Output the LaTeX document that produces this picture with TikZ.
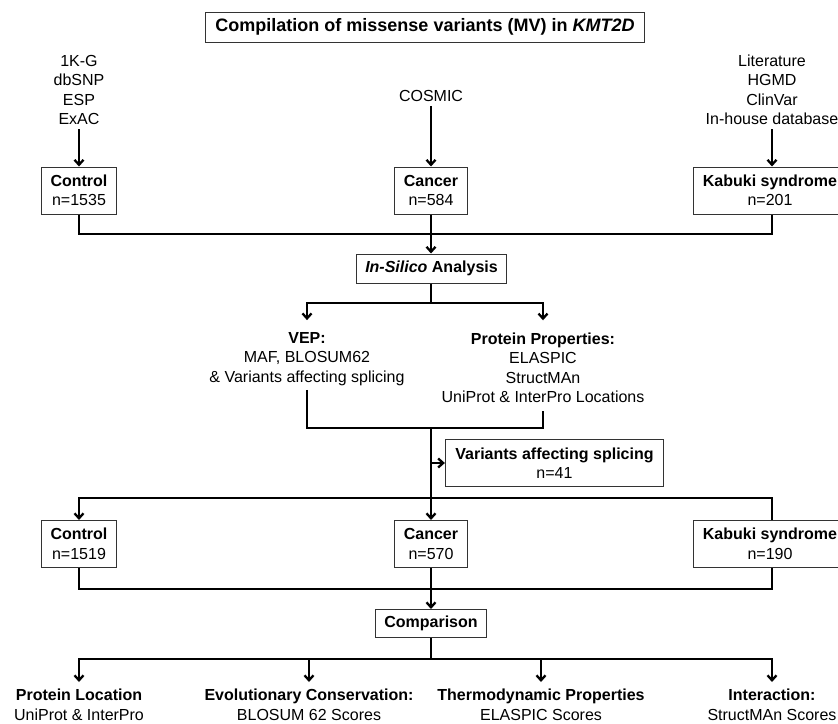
\documentclass[tikz,border=0pt]{standalone}
\usepackage{fontspec}
\setmainfont{Liberation Sans}
\usetikzlibrary{arrows.meta}

\tikzset{
    caja/.style={draw=black!80, line width=1pt, align=center,
        inner xsep=9pt, inner ysep=4pt, minimum height=47pt},
    texto/.style={align=center, inner sep=4pt},
    linea/.style={line width=2.3pt, black},
    flecha/.style={linea, -{Straight Barb[length=5pt,width=9pt]}}
}

\begin{document}
\begin{tikzpicture}[x=1pt,y=-1pt,font=\fontsize{16}{19.5}\selectfont]

            \useasboundingbox (0,0) rectangle (838,723);

            %---------------- TITULO ----------------
            \node[caja, minimum height=30pt, inner xsep=10pt,
                font=\fontsize{18}{22}\selectfont\bfseries]
            (titulo) at (425,27)
            {Compilation of missense variants (MV) in \textit{KMT2D}};

            %---------------- FUENTES ----------------
            \node[texto] (fuenteCtrl) at (79,90) {1K-G\\dbSNP\\ESP\\ExAC};
            \node[texto] (fuenteCan) at (431,96) {COSMIC};
            \node[texto] (fuenteKab) at (772,90)
            {Literature\\HGMD\\ClinVar\\In-house database};

            %---------------- GRUPOS ----------------
            \node[caja] (ctrlA) at (79,190.5) {\textbf{Control}\\n=1535};
            \node[caja] (canA) at (431,190.5) {\textbf{Cancer}\\n=584};
            \node[caja] (kabA) at (770,190.5) {\textbf{Kabuki syndrome}\\n=201};

            \draw[flecha] (fuenteCtrl.south) -- (ctrlA.north);
            \draw[flecha] (fuenteCan.south) -- (canA.north);
            \draw[flecha] (fuenteKab.south) -- (fuenteKab.south |- kabA.north);

            %---------------- ANALISIS ----------------
            \node[caja, minimum height=29pt] (insilico) at (431.5,268.5)
            {\textbf{\textit{In-Silico} Analysis}};

            \coordinate (union1) at (431,234);
            \draw[linea] (ctrlA.south) |- (union1);
            \draw[linea] (union1) -| (fuenteKab.south |- kabA.south);
            \draw[flecha] (canA.south) -- (canA.south |- insilico.north);

            \node[texto] (vep) at (307,359)
            {\textbf{VEP:}\\MAF, BLOSUM62\\\& Variants affecting splicing};
            \node[texto] (prot) at (543,367.6)
            {\textbf{Protein Properties:}\\ELASPIC\\StructMAn\\UniProt \& InterPro Locations};

            \coordinate (rama1) at (431,303);
            \draw[linea] (canA.south |- insilico.south) -- (rama1);
            \draw[flecha, shorten >=8pt] (rama1) -| (vep.north);
            \draw[flecha, shorten >=8pt] (rama1) -| (prot.north);

            % union de las dos ramas
            \coordinate (union2) at (431,428);
            \draw[linea] (vep.south) |- (union2);
            \draw[linea, shorten >=4pt] (union2) -| (prot.south);

            %---------------- SPLICING ----------------
            \node[caja, inner xsep=10pt] (variantes) at (554.5,463)
            {\textbf{Variants affecting splicing}\\n=41};

            \coordinate (desvio) at (431,463);
            \draw[flecha] (desvio) -- (variantes.west);

            %---------------- GRUPOS FILTRADOS ----------------
            \node[caja] (ctrlB) at (79,544) {\textbf{Control}\\n=1519};
            \node[caja] (canB) at (431,544) {\textbf{Cancer}\\n=570};
            \node[caja] (kabB) at (770,544) {\textbf{Kabuki syndrome}\\n=190};

            \coordinate (rama2) at (431,498);
            \draw[flecha] (union2) -- (canB.north);
            \draw[flecha] (rama2) -| (ctrlB.north);
            \draw[linea] (rama2) -| (fuenteKab.south |- kabB.north);

            %---------------- COMPARACION ----------------
            \node[caja, minimum height=28pt] (comp) at (431,623.5)
            {\textbf{Comparison}};

            \coordinate (union3) at (431,589);
            \draw[linea] (ctrlB.south) |- (union3);
            \draw[linea] (union3) -| (fuenteKab.south |- kabB.south);
            \draw[flecha] (canB.south) -- (comp.north);

            %---------------- RESULTADOS ----------------
            \node[texto, anchor=north] (ubic) at (79,685)
            {\textbf{Protein Location}\\UniProt \& InterPro};
            \node[texto, anchor=north] (evol) at (309,685)
            {\textbf{Evolutionary Conservation:}\\BLOSUM 62 Scores};
            \node[texto, anchor=north] (termo) at (541,685)
            {\textbf{Thermodynamic Properties}\\ELASPIC Scores};
            \node[texto, anchor=north] (inter) at (772,685)
            {\textbf{Interaction:}\\StructMAn Scores};

            \coordinate (rama3) at (431,659);
            \draw[linea] (comp.south) -- (rama3);
            \draw[flecha, shorten >=3pt] (rama3) -| (ubic.north);
            \draw[flecha, shorten >=3pt] (rama3) -| (evol.north);
            \draw[flecha, shorten >=3pt] (rama3) -| (termo.north);
            \draw[flecha, shorten >=3pt] (rama3) -| (inter.north);

        \end{tikzpicture}
\end{document}
